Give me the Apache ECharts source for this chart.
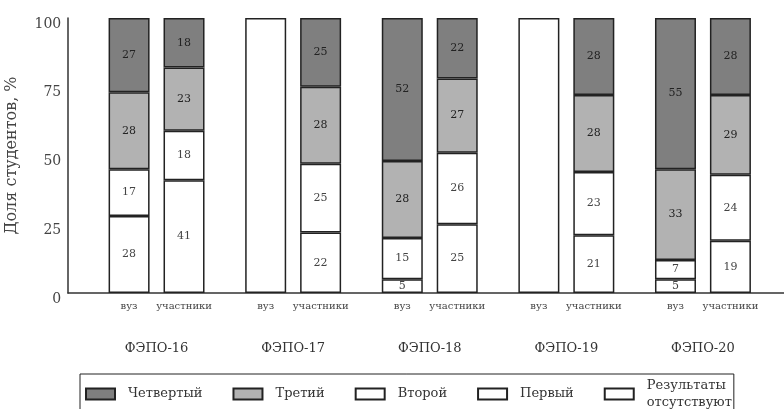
<!DOCTYPE html>
<html>
<head>
<meta charset="utf-8">
<script src="https://cdn.jsdelivr.net/npm/echarts@6/dist/echarts.min.js"></script>
<style>html,body{margin:0;padding:0;background:#fff}#c{width:784px;height:409px}</style>
</head>
<body>
<div id="c"></div>
<script>
const groups = ['ФЭПО-16', 'ФЭПО-17', 'ФЭПО-18', 'ФЭПО-19', 'ФЭПО-20'];
const subLabels = ['вуз', 'участники'];
const levelNames = ['Четвертый', 'Третий', 'Второй', 'Первый', 'Результаты отсутствуют'];
const yTicks = [0, 25, 50, 75, 100];

// вуз
const vuzAbsent = [null, 100, null, 100, null];
const vuzFirst = [28, null, 5, null, 5];
const vuzSecond = [17, null, 15, null, 7];
const vuzThird = [28, null, 28, null, 33];
const vuzFourth = [27, null, 52, null, 55];
// участники
const uchFirst = [41, 22, 25, 21, 19];
const uchSecond = [18, 25, 26, 23, 24];
const uchThird = [23, 28, 27, 28, 29];
const uchFourth = [18, 25, 22, 28, 28];

const FONT = 'DejaVu Serif';
const colors = {
  'Четвертый': '#7f7f7f',
  'Третий': '#b2b2b2',
  'Второй': '#ffffff',
  'Первый': '#ffffff',
  'Результаты отсутствуют': '#ffffff'
};

function mk(name, stack, data) {
  const dark = name === 'Четвертый' || name === 'Третий';
  return {
    type: 'bar', name: name, stack: stack, data: data,
    xAxisIndex: 0, yAxisIndex: 0,
    barWidth: 41, barGap: '34%',
    itemStyle: { color: colors[name], borderColor: '#222', borderWidth: 1.5 },
    label: {
      show: name !== 'Результаты отсутствуют', position: 'inside',
      fontFamily: FONT, fontSize: 11,
      color: dark ? '#222' : '#444'
    },
    emphasis: { disabled: true }
  };
}

const series = [
  mk('Результаты отсутствуют', subLabels[0], vuzAbsent),
  mk('Первый', subLabels[0], vuzFirst),
  mk('Второй', subLabels[0], vuzSecond),
  mk('Третий', subLabels[0], vuzThird),
  mk('Четвертый', subLabels[0], vuzFourth),
  mk('Первый', subLabels[1], uchFirst),
  mk('Второй', subLabels[1], uchSecond),
  mk('Третий', subLabels[1], uchThird),
  mk('Четвертый', subLabels[1], uchFourth)
];

const chart = echarts.init(document.getElementById('c'));
chart.setOption({
  animation: false,
  backgroundColor: '#fff',
  grid: [
    { left: 88.25, right: 12.75, top: 18, bottom: 116, containLabel: false, outerBoundsMode: 'none' },
    { left: 68, right: 0, top: 18, bottom: 116, containLabel: false, outerBoundsMode: 'none' }
  ],
  xAxis: [
    {
      type: 'category', gridIndex: 0, data: groups,
      axisLine: { show: false }, axisTick: { show: false },
      axisLabel: {
        interval: 0, margin: 5,
        formatter: function (v) {
          return '{a|' + subLabels[0] + '}{b|' + subLabels[1] + '}\n{g|' + v + '}';
        },
        rich: {
          a: { width: 55, align: 'center', fontFamily: FONT, fontSize: 10, lineHeight: 16, color: '#444' },
          b: { width: 55, align: 'center', fontFamily: FONT, fontSize: 10, lineHeight: 16, color: '#444' },
          g: { align: 'center', fontFamily: FONT, fontSize: 13, lineHeight: 70, color: '#333' }
        }
      }
    },
    {
      type: 'value', gridIndex: 1, min: 0, max: 1,
      axisLine: { show: true, lineStyle: { color: '#333', width: 1.5 } },
      axisTick: { show: false }, axisLabel: { show: false }, splitLine: { show: false }
    }
  ],
  yAxis: [
    {
      type: 'value', gridIndex: 0, min: yTicks[0], max: yTicks[yTicks.length - 1], interval: 25,
      axisLine: { show: false }, axisTick: { show: false }, splitLine: { show: false },
      axisLabel: { margin: 27, fontFamily: FONT, fontSize: 14, color: '#444', verticalAlign: 'top', lineHeight: 12 },
      name: 'Доля студентов, %', nameLocation: 'middle', nameGap: 68,
      nameTextStyle: { fontFamily: FONT, fontSize: 16, color: '#444' }
    },
    {
      type: 'value', gridIndex: 1, min: 0, max: 1,
      axisLine: { show: true, lineStyle: { color: '#333', width: 1.5 } },
      axisTick: { show: false }, axisLabel: { show: false }, splitLine: { show: false }
    }
  ],
  legend: {
    data: levelNames,
    left: 80, top: 374,
    orient: 'horizontal',
    itemWidth: 29, itemHeight: 11, itemGap: 30,
    padding: [3, 2, 8, 5],
    borderColor: '#222', borderWidth: 1,
    icon: 'rect',
    selectedMode: false,
    formatter: function (n) { return n === 'Результаты отсутствуют' ? 'Результаты\nотсутствуют' : n; },
    textStyle: { fontFamily: FONT, fontSize: 13, color: '#333', lineHeight: 17, padding: [0, 0, 0, 8] }
  },
  series: series
});
</script>
</body>
</html>
